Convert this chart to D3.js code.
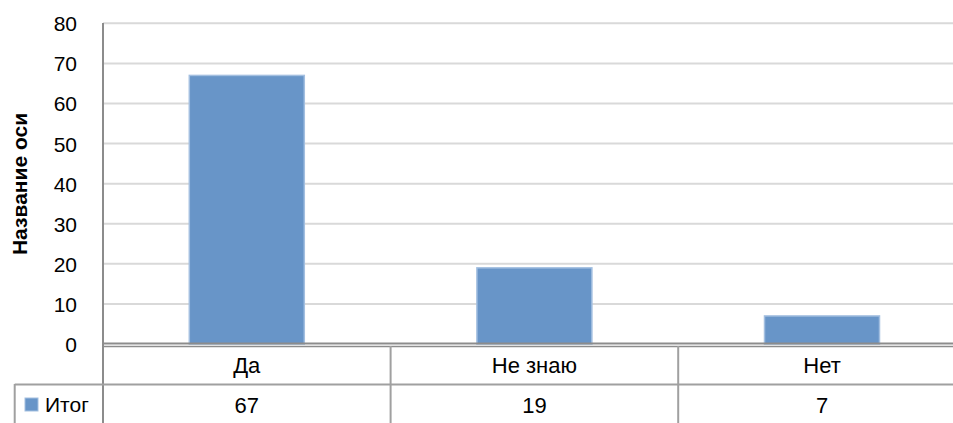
<!DOCTYPE html>
<html>
<head>
<meta charset="utf-8">
<script src="https://cdn.jsdelivr.net/npm/d3@7"></script>
<style>
  body { margin: 0; background: #fff; }
  text { font-family: "Liberation Sans", Arial, sans-serif; fill: #000; }
</style>
</head>
<body>
<script>
// chart data
var categories = ["Да", "Не знаю", "Нет"];
var values = [67, 19, 7];
var seriesName = "Итог";
var yTicks = [0, 10, 20, 30, 40, 50, 60, 70, 80];
var axisTitle = "Название оси";

var w = 953;
var h = 423;

var svg = d3.select("body")
  .append("svg")
  .attr("width", w)
  .attr("height", h);

var left = 103;
var xScale = d3.scaleBand()
  .domain(categories)
  .range([left, left + 3 * 287.6])
  .paddingInner(0)
  .paddingOuter(0);

var yScale = d3.scaleLinear()
  .domain([0, 80])
  .range([344, 23.3]);

// gridlines
svg.selectAll("line.grid")
  .data(yTicks.filter(function (d) { return d > 0; }))
  .enter()
  .append("line")
  .attr("class", "grid")
  .attr("x1", left)
  .attr("x2", w)
  .attr("y1", function (d) { return yScale(d); })
  .attr("y2", function (d) { return yScale(d); })
  .attr("stroke", "#d9d9d9")
  .attr("stroke-width", 2);

// bars
var barW = 115;
svg.selectAll("rect.bar")
  .data(values)
  .enter()
  .append("rect")
  .attr("class", "bar")
  .attr("x", function (d, i) { return xScale(categories[i]) + xScale.bandwidth() / 2 - barW / 2; })
  .attr("y", function (d) { return yScale(d); })
  .attr("width", barW)
  .attr("height", function (d) { return yScale(0) - yScale(d); })
  .attr("fill", "#6895c8")
  .attr("stroke", "#a3bfe0")
  .attr("stroke-width", 1.5);

// y axis labels
svg.selectAll("text.ytick")
  .data(yTicks)
  .enter()
  .append("text")
  .attr("class", "ytick")
  .attr("x", 77)
  .attr("y", function (d) { return yScale(d) + 8; })
  .attr("text-anchor", "end")
  .style("font-size", "21px")
  .text(function (d) { return d; });

// axis title
svg.append("text")
  .attr("transform", "translate(27,184) rotate(-90)")
  .attr("text-anchor", "middle")
  .style("font-size", "21px")
  .style("font-weight", "bold")
  .text(axisTitle);

// axis lines
svg.append("line")
  .attr("x1", left).attr("x2", left)
  .attr("y1", 23).attr("y2", h)
  .attr("stroke", "#8c8c8c").attr("stroke-width", 2);
svg.append("line")
  .attr("x1", left).attr("x2", w)
  .attr("y1", 343.5).attr("y2", 343.5)
  .attr("stroke", "#8c8c8c").attr("stroke-width", 2);

// data table
svg.append("line")
  .attr("x1", left).attr("x2", w)
  .attr("y1", 346.5).attr("y2", 346.5)
  .attr("stroke", "#8c8c8c").attr("stroke-width", 1.5);
svg.append("line")
  .attr("x1", 14.7).attr("x2", w)
  .attr("y1", 384.5).attr("y2", 384.5)
  .attr("stroke", "#a0a0a0").attr("stroke-width", 2);
svg.append("line")
  .attr("x1", 14.7).attr("x2", 14.7)
  .attr("y1", 384).attr("y2", h)
  .attr("stroke", "#a0a0a0").attr("stroke-width", 2);

svg.selectAll("line.sep")
  .data(categories.slice(1))
  .enter()
  .append("line")
  .attr("class", "sep")
  .attr("x1", function (d) { return xScale(d); })
  .attr("x2", function (d) { return xScale(d); })
  .attr("y1", 346).attr("y2", h)
  .attr("stroke", "#a0a0a0").attr("stroke-width", 2);

svg.selectAll("text.cat")
  .data(categories)
  .enter()
  .append("text")
  .attr("class", "cat")
  .attr("x", function (d) { return xScale(d) + xScale.bandwidth() / 2; })
  .attr("y", 373)
  .attr("text-anchor", "middle")
  .style("font-size", "22px")
  .text(function (d) { return d; });

svg.selectAll("text.val")
  .data(values)
  .enter()
  .append("text")
  .attr("class", "val")
  .attr("x", function (d, i) { return xScale(categories[i]) + xScale.bandwidth() / 2; })
  .attr("y", 413)
  .attr("text-anchor", "middle")
  .style("font-size", "22px")
  .text(function (d) { return d; });

// legend key
svg.append("rect")
  .attr("x", 25).attr("y", 398)
  .attr("width", 13).attr("height", 13)
  .attr("fill", "#6895c8")
  .attr("stroke", "#a3bfe0");
svg.append("text")
  .attr("x", 45).attr("y", 412)
  .style("font-size", "21px")
  .text(seriesName);
</script>
</body>
</html>
